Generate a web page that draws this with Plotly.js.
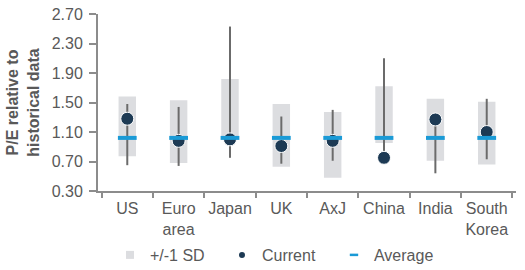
<!DOCTYPE html>
<html>
<head>
<meta charset="utf-8">
<script src="https://cdn.plot.ly/plotly-3.0.1.min.js"></script>
<style>html,body{margin:0;padding:0;background:#fff;}#chart{width:525px;height:270px;}</style>
</head>
<body>
<div id="chart"></div>
<script>
const categories = ["US", "Euro<br>area", "Japan", "UK", "AxJ", "China", "India", "South<br>Korea"];
const sdLow   = [0.77, 0.68, 1.04, 0.63, 0.48, 0.95, 0.71, 0.66];
const sdHigh  = [1.58, 1.53, 1.82, 1.48, 1.37, 1.72, 1.55, 1.51];
const rangeLow  = [0.65, 0.64, 0.75, 0.67, 0.71, 0.78, 0.54, 0.73];
const rangeHigh = [1.48, 1.44, 2.53, 1.31, 1.40, 2.10, 1.30, 1.55];
const current = [1.28, 0.98, 1.00, 0.91, 0.98, 0.75, 1.27, 1.10];
const average = [1.02, 1.02, 1.02, 1.02, 1.02, 1.02, 1.02, 1.02];
const yTicks = [0.30, 0.70, 1.10, 1.50, 1.90, 2.30, 2.70];

const gray = '#595959';
const font = {family: 'Liberation Sans, Arial, sans-serif', size: 16, color: gray};

const traces = [
  {
    type: 'bar', x: categories, base: sdLow,
    y: sdHigh.map((h, i) => h - sdLow[i]),
    width: 0.34, marker: {color: '#dcdde0'},
    showlegend: false, hoverinfo: 'skip'
  },
  {
    type: 'scatter', mode: 'markers', x: categories, y: rangeLow,
    marker: {opacity: 0, size: 1},
    error_y: {type: 'data', symmetric: false,
      array: rangeHigh.map((h, i) => h - rangeLow[i]),
      arrayminus: rangeLow.map(() => 0),
      width: 0, thickness: 2, color: '#6b6b6b'},
    showlegend: false, hoverinfo: 'skip'
  },
  {
    type: 'scatter', mode: 'markers', x: categories, y: current,
    marker: {size: 13, color: '#1d3a54', line: {color: '#ffffff', width: 1}},
    showlegend: false
  },
  {
    type: 'scatter', mode: 'markers', x: categories, y: average,
    marker: {symbol: 'line-ew', size: 13.4, line: {color: '#1a9ad6', width: 4}},
    showlegend: false
  },
  // legend entries
  {type: 'scatter', mode: 'markers', x: [null], y: [null], name: '+/-1 SD',
   marker: {symbol: 'square', size: 8, color: '#dcdde0'}},
  {type: 'scatter', mode: 'markers', x: [null], y: [null], name: 'Current',
   marker: {size: 6, color: '#1d3a54'}},
  {type: 'scatter', mode: 'markers', x: [null], y: [null], name: 'Average',
   marker: {symbol: 'line-ew', size: 6, line: {color: '#1a9ad6', width: 2.5}}}
];

const layout = {
  width: 525, height: 270,
  margin: {l: 98, r: 9, t: 14, b: 79},
  paper_bgcolor: '#fff', plot_bgcolor: '#fff',
  font: font,
  showlegend: true,
  legend: {orientation: 'h', xref: 'container', yref: 'container',
    x: 0.2095, xanchor: 'left', y: 0.0556, yanchor: 'middle',
    entrywidth: 67, entrywidthmode: 'pixels', font: font, bgcolor: 'rgba(0,0,0,0)',
    tracegroupgap: 0},
  xaxis: {
    type: 'category', showgrid: false, zeroline: false,
    showline: true, linecolor: '#8c8c8c', linewidth: 2,
    ticks: 'outside', tickson: 'boundaries', ticklen: 5, tickwidth: 2, tickcolor: '#8c8c8c',
    tickfont: font, tickangle: 0, ticklabelstandoff: 2, fixedrange: true, automargin: false
  },
  yaxis: {
    range: [0.30, 2.70], tickvals: yTicks, ticktext: yTicks.map(v => v.toFixed(2)),
    showgrid: false, zeroline: false, automargin: false,
    showline: true, linecolor: '#8c8c8c', linewidth: 2,
    ticks: 'outside', ticklen: 7, tickwidth: 2, tickcolor: '#8c8c8c',
    ticklabelstandoff: 3,
    tickfont: font,
    title: {text: '<b>P/E relative to<br>historical data</b>', font: {family: 'Liberation Sans, Arial, sans-serif', size: 16, color: gray}, standoff: 8}
  }
};

Plotly.newPlot('chart', traces, layout, {displayModeBar: false, staticPlot: true});
</script>
</body>
</html>
